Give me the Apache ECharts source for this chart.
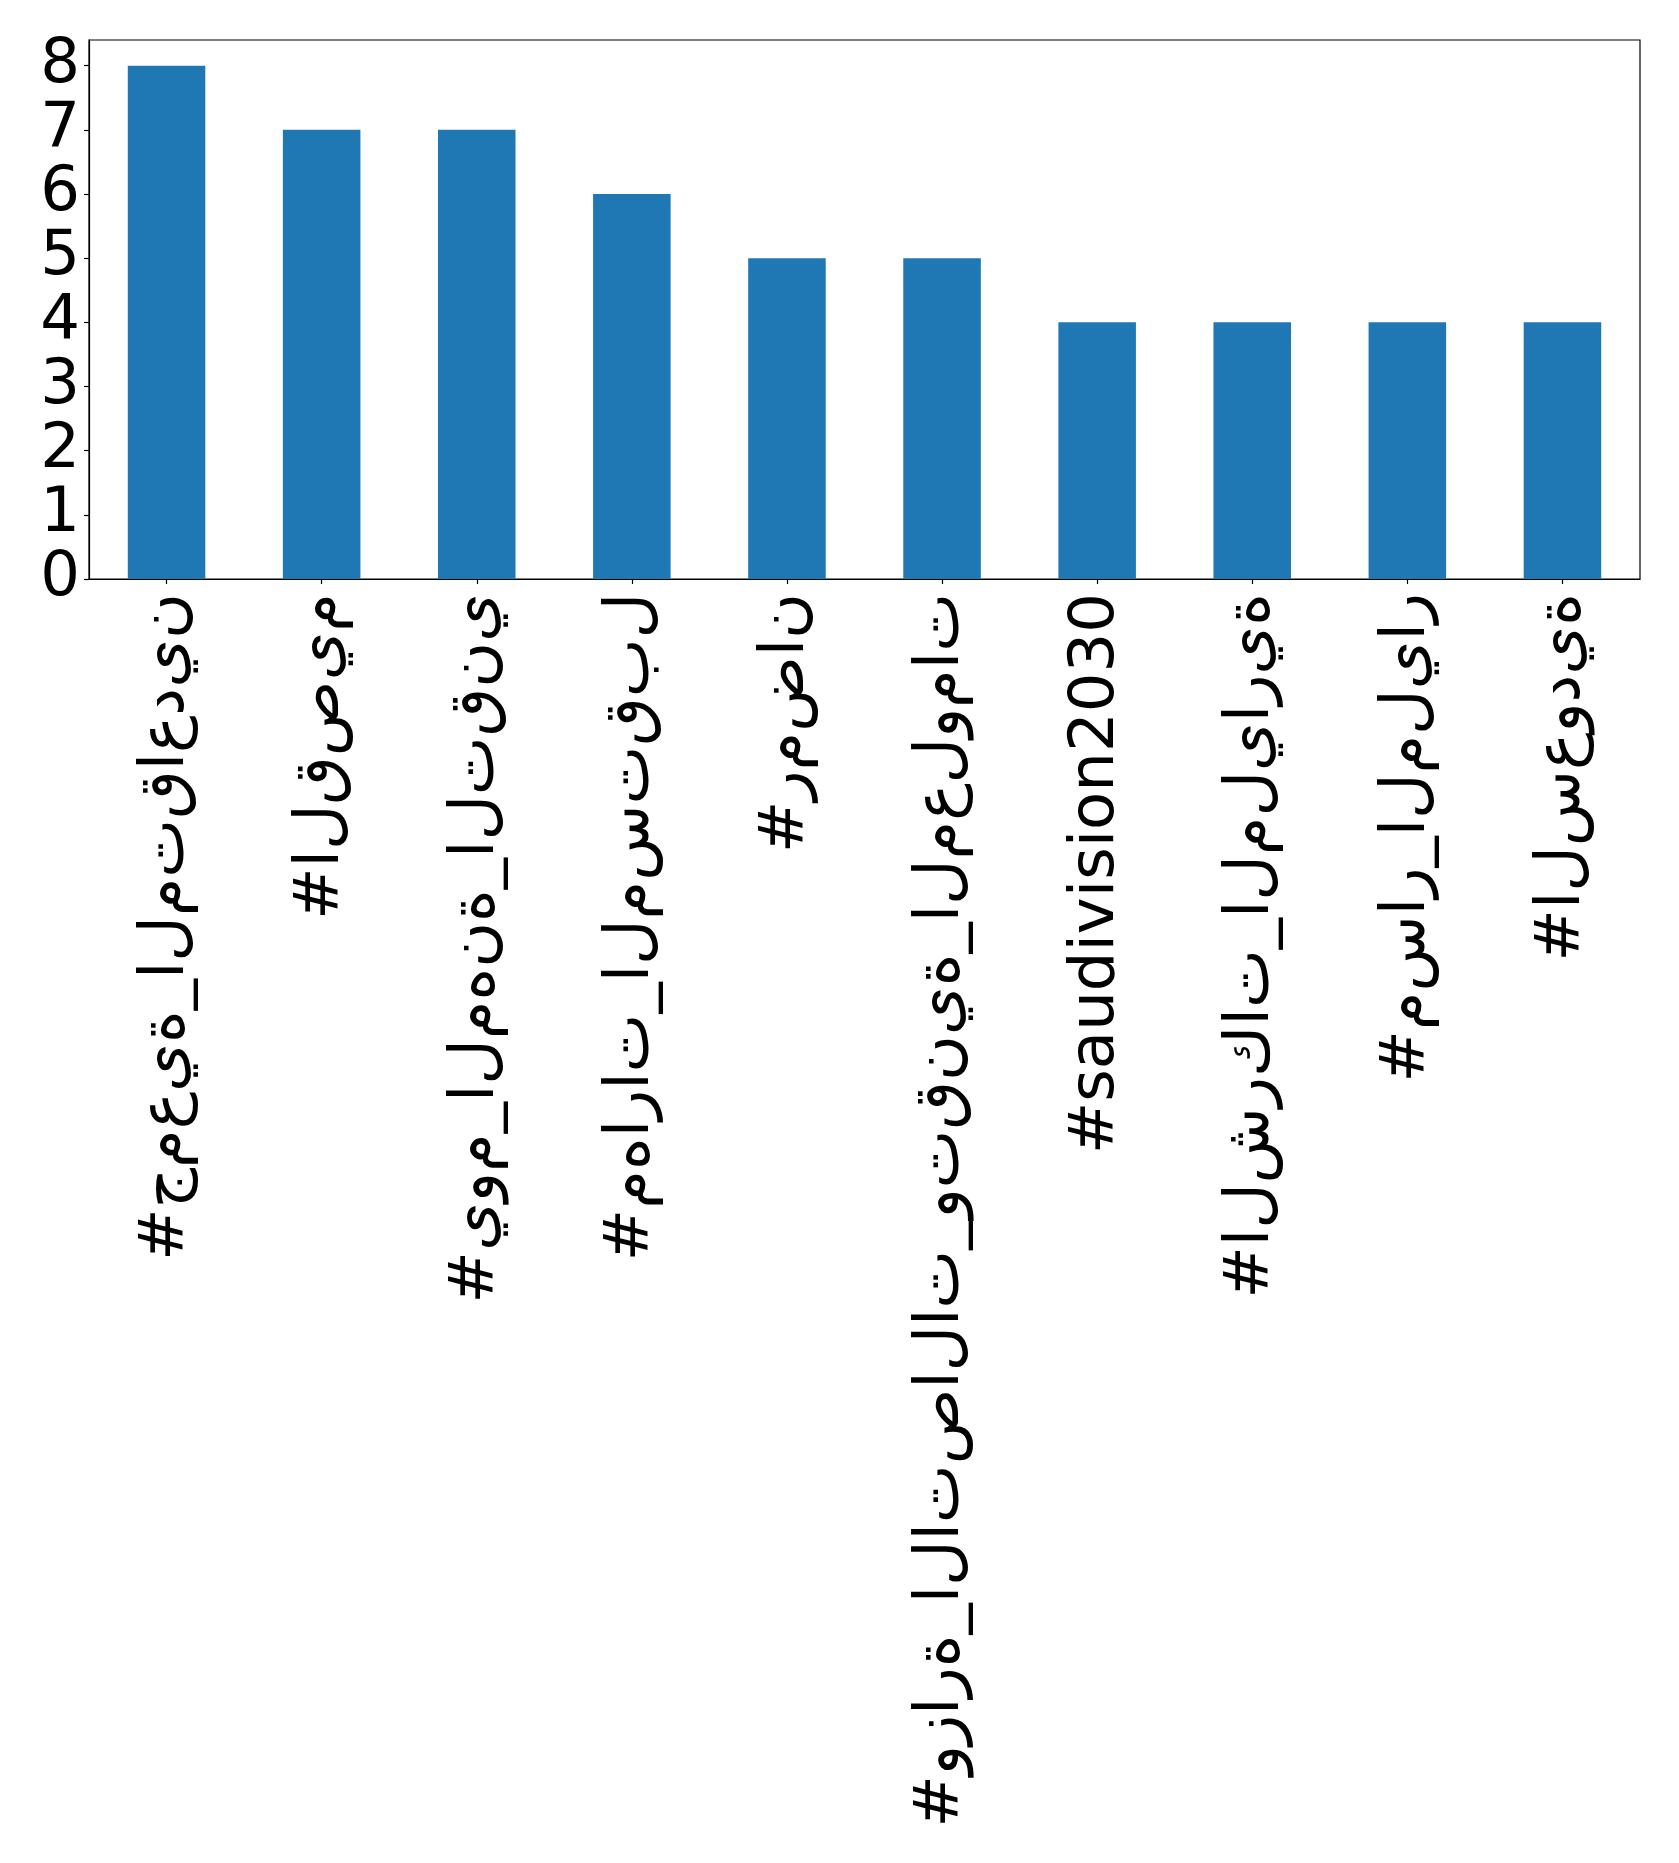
<!DOCTYPE html>
<html>
<head>
<meta charset="utf-8">
<script src="https://cdn.jsdelivr.net/npm/echarts@6/dist/echarts.min.js"></script>
<style>
  html, body { margin: 0; padding: 0; background: #fff; }
  #chart { width: 1679px; height: 1863px; }
</style>
</head>
<body>
<div id="chart"></div>
<script>
// Hashtag counts
const hashtags = [
  '#جمعية_المتقاعدين',
  '#القصيم',
  '#يوم_المهنة_التقني',
  '#مهارات_المستقبل',
  '#رمضان',
  '#وزارة_الاتصالات_وتقنية_المعلومات',
  '#saudivision2030',
  '#الشركات_المليارية',
  '#مسار_المليار',
  '#السعودية'
];
const counts = [8, 7, 7, 6, 5, 5, 4, 4, 4, 4];
const yTicks = [0, 1, 2, 3, 4, 5, 6, 7, 8];

// Letters are laid out one by one, left to right, each in its standalone form
function spell(s) {
  return '\u202D' + Array.from(s).join('\u200C') + '\u202C';
}

const FONT = 'DejaVu Sans';
const FONT_SIZE = 62.5;
const chart = echarts.init(document.getElementById('chart'), null, { renderer: 'canvas' });
chart.setOption({
  animation: false,
  backgroundColor: '#ffffff',
  grid: {
    left: 89, right: 39, top: 40, bottom: 1284,
    show: true, borderColor: '#000', borderWidth: 1.2,
    outerBoundsMode: 'none'
  },
  xAxis: {
    type: 'category',
    data: hashtags,
    boundaryGap: true,
    axisLine: { show: true, lineStyle: { color: '#000', width: 1.2 } },
    axisTick: { show: true, alignWithLabel: true, length: 5, lineStyle: { color: '#000', width: 1.2 } },
    axisLabel: {
      interval: 0,
      rotate: 90,
      margin: 14,
      color: '#000',
      fontFamily: FONT,
      fontSize: FONT_SIZE,
      formatter: v => spell(v)
    },
    splitLine: { show: false }
  },
  yAxis: {
    type: 'value',
    min: 0, max: 8.4,
    axisLine: { show: true, lineStyle: { color: '#000', width: 1.2 } },
    axisTick: { show: true, length: 5, lineStyle: { color: '#000', width: 1.2 }, customValues: yTicks },
    axisLabel: { color: '#000', fontFamily: FONT, fontSize: FONT_SIZE, margin: 9, customValues: yTicks },
    splitLine: { show: false }
  },
  series: [{
    type: 'bar',
    data: counts,
    barWidth: '50%',
    itemStyle: { color: '#1f77b4' }
  }]
});
</script>
</body>
</html>
